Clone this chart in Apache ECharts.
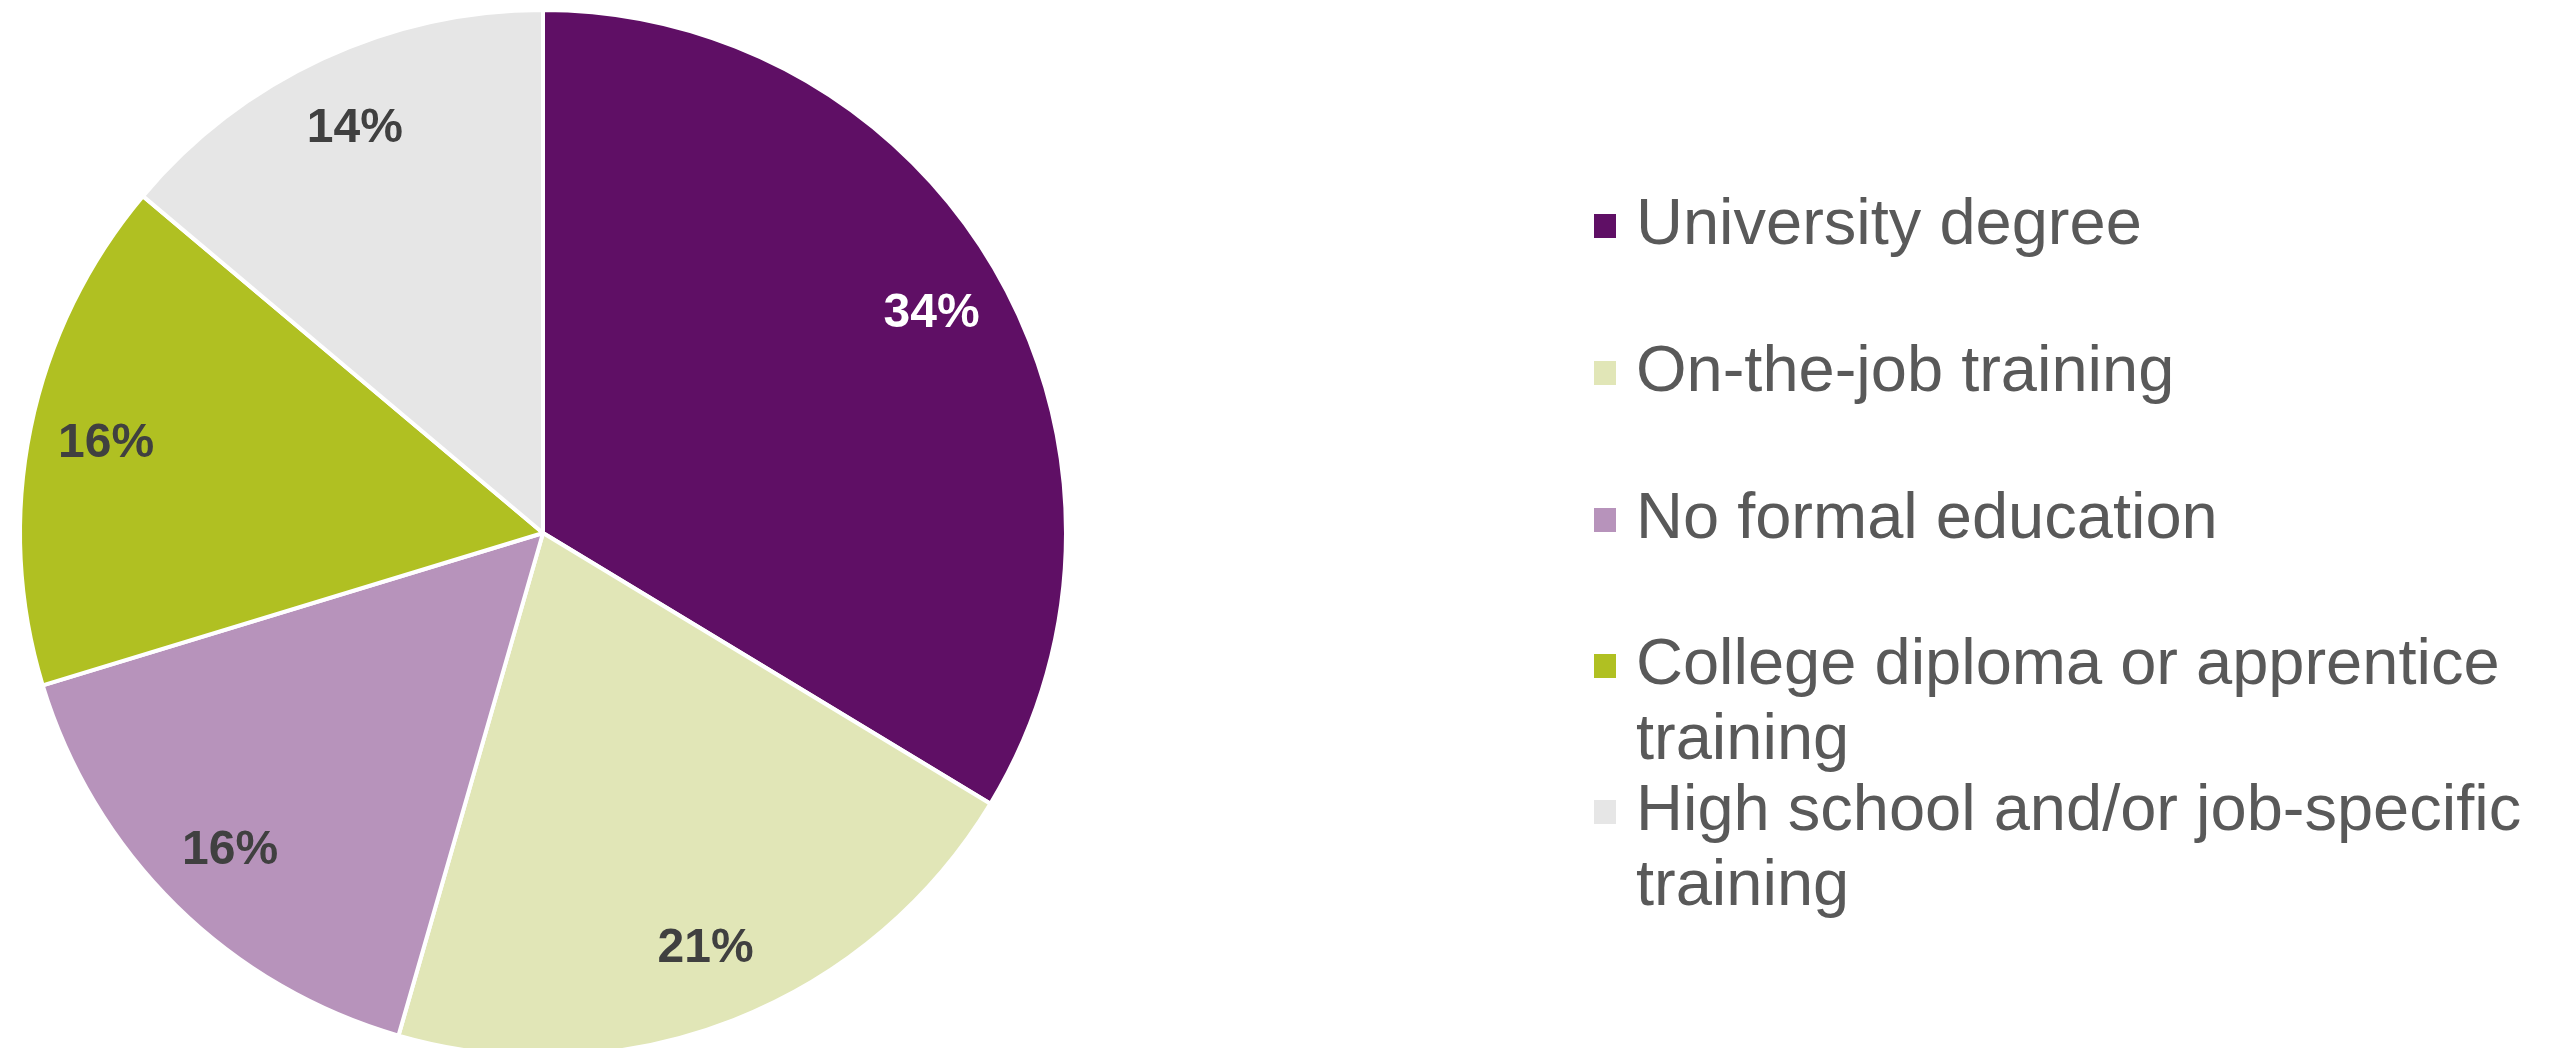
<!DOCTYPE html>
<html>
<head>
<meta charset="utf-8">
<style>
  html, body { margin: 0; padding: 0; background: #ffffff; }
  #chart { width: 2555px; height: 1048px; }
</style>
<script src="https://cdn.jsdelivr.net/npm/echarts@6/dist/echarts.min.js"></script>
</head>
<body>
<div id="chart"></div>
<script>
// Highest level of education / training
const categories = [
  'University degree',
  'On-the-job training',
  'No formal education',
  'College diploma or apprentice training',
  'High school and/or job-specific training'
];
// Legend text, wrapped as it is shown
const legendLabels = [
  'University degree',
  'On-the-job training',
  'No formal education',
  'College diploma or apprentice\ntraining',
  'High school and/or job-specific\ntraining'
];
// Shares in percent
const shares = [34, 21, 16, 16, 14];
const colors = ['#5f0f65', '#e1e6b7', '#b793bb', '#b0c022', '#e6e6e6'];
const labelColors = ['#ffffff', '#404040', '#404040', '#404040', '#404040'];

const FONT = '"Liberation Sans", Arial, sans-serif';
const CX = 543, CY = 533, R = 523;
const LINE_H = 75;
const legendCenters = [226, 373, 520, 666, 812];

const pieData = categories.map((name, i) => ({
  name: name,
  value: shares[i],
  itemStyle: { color: colors[i] }
}));

// One legend block per entry so every entry sits on its own row pitch.
// Wrapped entries get blank lines above so the first line stays level with the swatch.
const legends = categories.map((name, i) => {
  const lines = legendLabels[i].split('\n').length;
  const blank = '\n'.repeat(lines - 1);
  const boxH = (2 * lines - 1) * LINE_H;
  return {
    show: true,
    orient: 'vertical',
    left: 1592,
    top: legendCenters[i] - boxH / 2,
    padding: 0,
    icon: 'rect',
    itemWidth: 24,
    itemHeight: 26,
    selectedMode: false,
    data: [name],
    formatter: () => blank + legendLabels[i],
    textStyle: {
      fontFamily: FONT,
      fontSize: 65,
      color: '#595959',
      lineHeight: LINE_H,
      padding: [0, 0, 0, 14]
    }
  };
});

const chart = echarts.init(document.getElementById('chart'), null, { renderer: 'canvas' });
chart.setOption({
  backgroundColor: '#ffffff',
  animation: false,
  legend: legends,
  series: [
    {
      name: 'Share',
      type: 'pie',
      center: [CX, CY],
      radius: [0, R],
      startAngle: 90,
      clockwise: true,
      avoidLabelOverlap: false,
      label: { show: false },
      labelLine: { show: false },
      itemStyle: { borderColor: '#ffffff', borderWidth: 4 },
      emphasis: { disabled: true },
      data: pieData
    },
    {
      // Transparent twin ring carrying the percentage labels further out
      name: 'Labels',
      type: 'pie',
      center: [CX, CY],
      radius: [0, 2 * 446 - 6],
      startAngle: 90,
      clockwise: true,
      silent: true,
      legendHoverLink: false,
      avoidLabelOverlap: false,
      itemStyle: { color: 'transparent', borderWidth: 0 },
      emphasis: { disabled: true },
      labelLine: { show: false },
      label: {
        show: true,
        position: 'inside',
        fontFamily: FONT,
        fontWeight: 'bold',
        fontSize: 48,
        formatter: (p) => p.value + '%'
      },
      data: categories.map((name, i) => ({
        name: name,
        value: shares[i],
        label: { color: labelColors[i] }
      }))
    }
  ]
});
</script>
</body>
</html>
